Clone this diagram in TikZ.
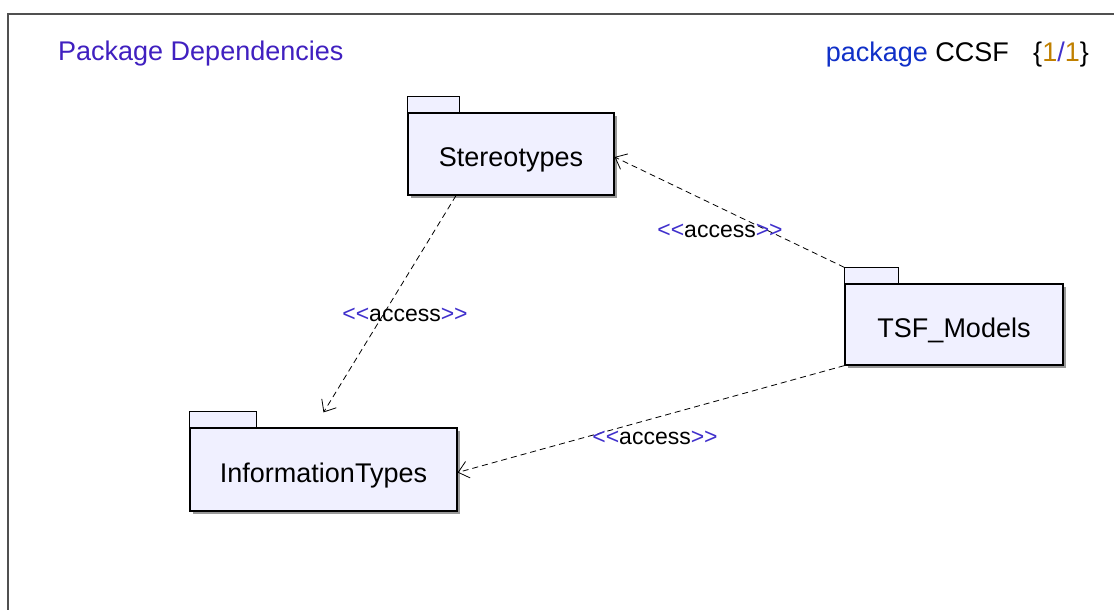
\documentclass[tikz,border=0pt]{standalone}
\usepackage{fontspec}
\setmainfont{Liberation Sans}[Ligatures=NoCommon]
\usetikzlibrary{arrows.meta,shadows,calc}
\definecolor{pkgfill}{RGB}{240,240,255}
\definecolor{titlecol}{RGB}{64,32,192}
\definecolor{stereocol}{RGB}{64,48,204}
\definecolor{kwblue}{RGB}{16,48,200}
\definecolor{gold}{RGB}{192,128,0}
\definecolor{framecol}{RGB}{80,80,80}
\tikzset{
  pkg/.style={draw=black, line width=1.2pt, fill=pkgfill, inner sep=0pt,
    font=\fontsize{27}{30}\selectfont,
    drop shadow={shadow xshift=3pt, shadow yshift=-3pt, fill=black!40, opacity=1}},
  pkgtab/.style={draw=black, line width=1.2pt, fill=pkgfill},
  dep/.style={draw=black, line width=0.8pt, dash pattern=on 6pt off 4pt,
    -{Straight Barb[length=10pt,width=17pt,line width=0.8pt]}},
  lbl/.style={font=\fontsize{23}{26}\selectfont, inner sep=0pt},
}
\newcommand{\acc}{{\color{stereocol}\mbox{<}\mbox{<}}access{\color{stereocol}\mbox{>}\mbox{>}}}
\newcommand{\pkgtext}[2]{\raisebox{#1}[\height][0pt]{#2}}
\begin{document}
\begin{tikzpicture}[x=1pt,y=-1pt]
\useasboundingbox (0,0) rectangle (1114,610);
\clip (0,0) rectangle (1114,610);
\fill[white] (0,0) rectangle (1114,610);
\draw[framecol, line width=1.5pt] (8,640) -- (8,14) -- (1140,14);

\node[anchor=base west, text=titlecol, font=\fontsize{27}{30}\selectfont, inner sep=0pt] (title) at (58,61) {Package Dependencies};
\node[anchor=base east, font=\fontsize{27}{30}\selectfont, inner sep=0pt] (hdr) at (1089,62)
  {{\color{kwblue}package} CCSF\hspace{0.9em}\{{\color{gold}1}{\color{stereocol}/}{\color{gold}1}\}};

\node[pkg, minimum width=206pt, minimum height=82pt] (st) at (511,154) {\pkgtext{-3pt}{Stereotypes}};
\draw[pkgtab] (st.north west) rectangle ++(52,-16);
\node[pkg, minimum width=218pt, minimum height=81pt] (ts) at (954,324.5) {\pkgtext{-3pt}{TSF\_Models}};
\draw[pkgtab] (ts.north west) rectangle ++(54,-16);
\node[pkg, minimum width=267pt, minimum height=83pt] (it) at (323.5,469.5) {\pkgtext{-3pt}{InformationTypes}};
\draw[pkgtab] (it.north west) rectangle ++(67,-16);

\draw[dep] ($(st.south)+(-55,0)$) -- ($(it.north)+(0,-15)$);
\draw[dep] ($(ts.north west)+(0,-16)$) -- ($(st.east)+(0,3)$);
\draw[dep] (ts.south west) -- ($(it.east)+(0,3)$);

\node[lbl, anchor=base] (l1) at (405,321) {\acc};
\node[lbl, anchor=base] (l2) at (720,237) {\acc};
\node[lbl, anchor=base] (l3) at (655,444) {\acc};
\end{tikzpicture}
\end{document}
